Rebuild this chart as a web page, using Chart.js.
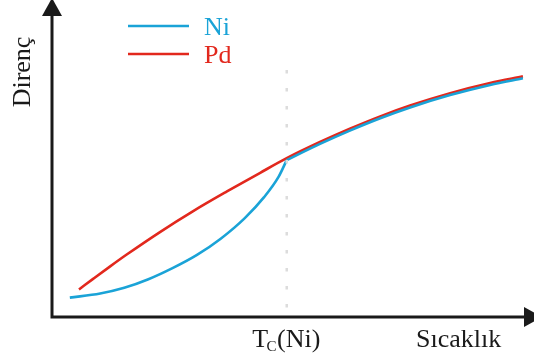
<!DOCTYPE html>
<html>
<head>
<meta charset="utf-8">
<script src="https://cdn.jsdelivr.net/npm/chart.js@4"></script>
<style>
  html, body { margin: 0; padding: 0; background: #fff; }
  canvas { display: block; }
</style>
</head>
<body>
<canvas id="resistanceChart" width="534" height="360"></canvas>
<script>
// Resistance vs temperature, Ni (ferromagnetic) vs Pd - schematic units 0..100
const tcTemp = 48.7;

// Ni below the Curie temperature
const niBelowT = [3.7, 10, 15, 20, 25, 30, 35, 40, 44, 47, 48.7];
const niBelowR = [6.1, 7.4, 9.2, 11.9, 15.4, 19.5, 24.7, 31.2, 37.8, 44.2, 49.5];

// Ni above the Curie temperature
const niAboveT = [48.7, 55.6, 61.8, 68.1, 74.3, 82.6, 90.9, 97.7];
const niAboveR = [49.5, 54.6, 58.8, 62.7, 66.1, 70.0, 73.2, 75.3];

// Pd
const pdT = [5.6, 8.6, 12.0, 15.5, 22.4, 29.3, 36.3, 43.2, 48.7, 55.6, 61.8, 68.1, 74.3, 82.6, 90.9, 97.7];
const pdR = [8.7, 12.1, 15.9, 19.7, 26.8, 33.4, 39.6, 45.5, 50.1, 55.2, 59.4, 63.3, 66.7, 70.6, 73.8, 75.9];

const NI_COLOR = '#1aa3d7';
const PD_COLOR = '#e2281d';
const INK = '#1a1a1a';
const SERIF = '"Liberation Serif", "DejaVu Serif", serif';

function toPoints(xs, ys) {
    return xs.map((x, i) => ({ x: x, y: ys[i] }));
}

const lineStyle = {
    borderWidth: 2.6,
    pointRadius: 0,
    fill: false,
    cubicInterpolationMode: 'monotone'
};

// dashed marker at T_C, laid over the curves
const tcLinePlugin = {
    id: 'tcLine',
    afterDatasetsDraw(chart) {
        const ctx = chart.ctx;
        const x = chart.scales.x.getPixelForValue(tcTemp);
        ctx.save();
        ctx.strokeStyle = '#dcdcdc';
        ctx.lineWidth = 2.5;
        ctx.setLineDash([3.5, 14.5]);
        ctx.beginPath();
        ctx.moveTo(x, 70);
        ctx.lineTo(x, 308);
        ctx.stroke();
        ctx.restore();
    }
};

// arrowed axes, axis titles and the legend
const axesPlugin = {
    id: 'arrowAxes',
    afterDraw(chart) {
        const ctx = chart.ctx;
        const area = chart.chartArea;
        const ox = area.left;
        const oy = area.bottom;
        const big = '26px ' + SERIF;
        ctx.save();
        ctx.strokeStyle = INK;
        ctx.fillStyle = INK;
        ctx.lineWidth = 3;

        ctx.beginPath();
        ctx.moveTo(ox, oy);
        ctx.lineTo(ox, 12);
        ctx.moveTo(ox - 1.5, oy);
        ctx.lineTo(526, oy);
        ctx.stroke();

        // arrow heads
        ctx.beginPath();
        ctx.moveTo(ox, -2);
        ctx.lineTo(ox + 10, 16);
        ctx.lineTo(ox - 10, 16);
        ctx.closePath();
        ctx.fill();
        ctx.beginPath();
        ctx.moveTo(542, oy);
        ctx.lineTo(524, oy - 10);
        ctx.lineTo(524, oy + 10);
        ctx.closePath();
        ctx.fill();

        // y title
        ctx.save();
        ctx.translate(30, 72);
        ctx.rotate(-Math.PI / 2);
        ctx.font = big;
        ctx.textAlign = 'center';
        ctx.textBaseline = 'alphabetic';
        ctx.fillText('Direnç', 0, 0);
        ctx.restore();

        // x title
        ctx.font = big;
        ctx.textAlign = 'left';
        ctx.textBaseline = 'alphabetic';
        ctx.fillText('Sıcaklık', 416, 347);

        // T_C(Ni) under the dashed line
        const tx = chart.scales.x.getPixelForValue(tcTemp);
        ctx.font = big;
        const wT = ctx.measureText('T').width;
        ctx.font = '15px ' + SERIF;
        const wC = ctx.measureText('C').width;
        ctx.font = big;
        const wN = ctx.measureText('(Ni)').width;
        let cx = tx - (wT + wC + wN) / 2;
        ctx.fillText('T', cx, 347);
        cx += wT - 1.5;
        ctx.font = '15px ' + SERIF;
        ctx.fillText('C', cx, 351);
        cx += wC + 0.5;
        ctx.font = big;
        ctx.fillText('(Ni)', cx, 347);

        // legend
        const items = [
            { text: 'Ni', color: NI_COLOR, y: 26 },
            { text: 'Pd', color: PD_COLOR, y: 54 }
        ];
        items.forEach(item => {
            ctx.strokeStyle = item.color;
            ctx.lineWidth = 2.4;
            ctx.beginPath();
            ctx.moveTo(128, item.y);
            ctx.lineTo(189, item.y);
            ctx.stroke();
            ctx.fillStyle = item.color;
            ctx.font = big;
            ctx.textBaseline = 'middle';
            ctx.fillText(item.text, 204, item.y + 2);
        });
        ctx.restore();
    }
};

new Chart(document.getElementById('resistanceChart'), {
    type: 'line',
    data: {
        datasets: [
            Object.assign({ label: 'Ni', data: toPoints(niBelowT, niBelowR), borderColor: NI_COLOR }, lineStyle),
            Object.assign({ label: 'Ni', data: toPoints(niAboveT, niAboveR), borderColor: NI_COLOR }, lineStyle),
            Object.assign({ label: 'Pd', data: toPoints(pdT, pdR), borderColor: PD_COLOR }, lineStyle)
        ]
    },
    options: {
        responsive: false,
        animation: false,
        layout: { padding: { left: 52, right: 0, top: 0, bottom: 43 } },
        scales: {
            x: { type: 'linear', min: 0, max: 100, display: false },
            y: { type: 'linear', min: 0, max: 100, display: false }
        },
        plugins: {
            legend: { display: false },
            tooltip: { enabled: false }
        }
    },
    plugins: [tcLinePlugin, axesPlugin]
});
</script>
</body>
</html>
